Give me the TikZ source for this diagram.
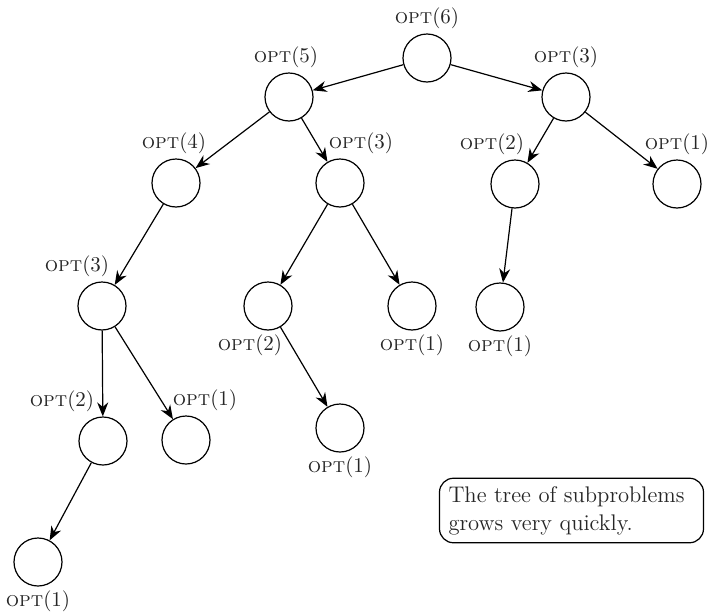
\documentclass[tikz,border=0pt]{standalone}
\usetikzlibrary{arrows.meta}
\newcommand{\optlbl}[1]{\textsc{opt}(#1)}
\begin{document}
\begin{tikzpicture}[x=0.5pt, y=-0.5pt,
subnode/.style={circle, draw=black, line width=0.6pt, minimum size=24pt, inner sep=0pt},
lbl/.style={inner sep=2pt, text=black!85, font=\fontsize{10.5}{12}\selectfont},
call/.style={draw=black, line width=0.6pt, -{Stealth[length=7pt, width=5.5pt]}},
notebox/.style={draw=black, line width=0.6pt, rounded corners=7pt, text=black!85, text width=123pt, align=left, inner xsep=4.5pt, inner ysep=4pt, font=\fontsize{11.3}{14}\selectfont},]

\useasboundingbox (0, 0) rectangle (708, 616);

\node (n6) [subnode, label={[lbl]above:\optlbl{6}}] at (427, 58) {};

\node (n5) [subnode, label={[lbl, xshift=-1.5pt]above:\optlbl{5}}] at (289, 97) {};
\node (n3r) [subnode, label={[lbl]above:\optlbl{3}}] at (566, 97) {};

\node (n4) [subnode, label={[lbl, xshift=-1pt]above:\optlbl{4}}] at (176, 183) {};
\node (n3m) [subnode, label={[lbl, xshift=10.5pt]above:\optlbl{3}}] at (340, 183) {};
\node (n2r) [subnode, label={[lbl, xshift=-11.5pt]above:\optlbl{2}}] at (515, 184) {};
\node (n1fr) [subnode, label={[lbl]above:\optlbl{1}}] at (677, 184) {};

\node (n3l) [subnode, label={[lbl, xshift=-12.5pt]above:\optlbl{3}}] at (102, 306) {};
\node (n2m) [subnode, label={[lbl, xshift=-9pt]below:\optlbl{2}}] at (268, 306) {};
\node (n1m) [subnode, label={[lbl]below:\optlbl{1}}] at (412, 306) {};
\node (n1r) [subnode, label={[lbl]below:\optlbl{1}}] at (500, 307) {};

\node (n2l) [subnode, label={[lbl, xshift=-20.5pt]above:\optlbl{2}}] at (103, 441) {};
\node (n1lm) [subnode, label={[lbl, xshift=9.5pt]above:\optlbl{1}}] at (186, 440) {};
\node (n1ml) [subnode, label={[lbl]below:\optlbl{1}}] at (340, 428) {};

\node (n1bl) [subnode, label={[lbl]below:\optlbl{1}}] at (38, 562) {};

\node (note) [notebox] at (571.5, 510.5) {The tree of subproblems\\grows very quickly.};

\draw[call] (n6) -- (n5);
\draw[call] (n6) -- (n3r);
\draw[call] (n5) -- (n4);
\draw[call] (n5) -- (n3m);
\draw[call] (n3r) -- (n2r);
\draw[call] (n3r) -- (n1fr);
\draw[call] (n4) -- (n3l);
\draw[call] (n3m) -- (n2m);
\draw[call] (n3m) -- (n1m);
\draw[call] (n2r) -- (n1r);
\draw[call] (n3l) -- (n2l);
\draw[call] (n3l) -- (n1lm);
\draw[call] (n2m) -- (n1ml);
\draw[call] (n2l) -- (n1bl);

\end{tikzpicture}
\end{document}
